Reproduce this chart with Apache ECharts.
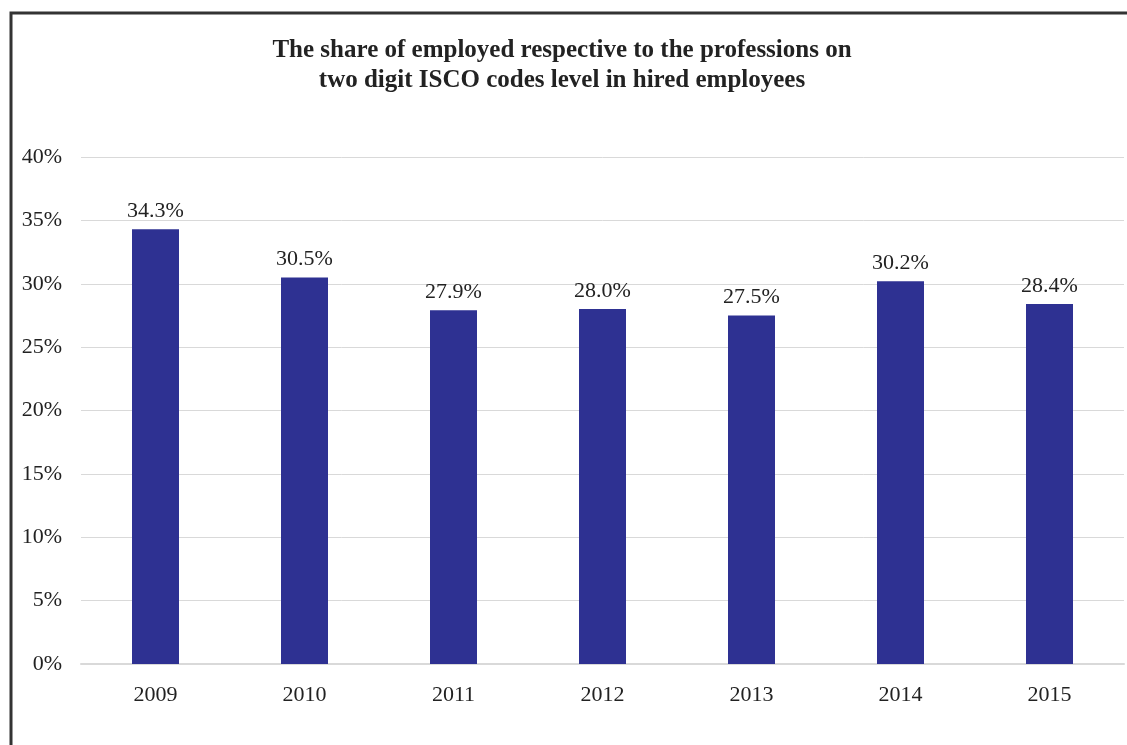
<!DOCTYPE html>
<html>
<head>
<meta charset="utf-8">
<script src="https://cdn.jsdelivr.net/npm/echarts@6/dist/echarts.min.js"></script>
<style>
html,body{margin:0;padding:0;background:#fff;}
#chart{width:1127px;height:745px;}
</style>
</head>
<body>
<div id="chart"></div>
<script>
var titleText = 'The share of employed respective to the professions on\ntwo digit ISCO codes level in hired employees';
var categories = ['2009', '2010', '2011', '2012', '2013', '2014', '2015'];
var shareValues = [34.3, 30.5, 27.9, 28.0, 27.5, 30.2, 28.4];

var fontFam = '"Liberation Serif", "DejaVu Serif", serif';
var chart = echarts.init(document.getElementById('chart'), null, {renderer: 'canvas'});
chart.setOption({
  backgroundColor: '#fff',
  animation: false,
  title: {
    text: titleText,
    left: 557,
    textAlign: 'center',
    top: 31,
    textStyle: {fontFamily: fontFam, fontSize: 25, fontWeight: 'bold', color: '#222', lineHeight: 30}
  },
  graphic: [
    {type: 'polyline', shape: {points: [[11, 745], [11, 13], [1127, 13]]}, style: {stroke: '#333', lineWidth: 3, fill: null}}
  ],
  grid: {left: 81, right: 3, top: 157, bottom: 81, containLabel: false},
  xAxis: {
    type: 'category',
    data: categories,
    axisLine: {lineStyle: {color: '#d9d9d9', width: 2}},
    axisTick: {show: false},
    axisLabel: {fontFamily: fontFam, fontSize: 22, color: '#222', margin: 20}
  },
  yAxis: {
    type: 'value',
    min: 0, max: 40, interval: 5,
    axisLine: {show: false},
    axisTick: {show: false},
    splitLine: {lineStyle: {color: '#d9d9d9', width: 1}},
    axisLabel: {fontFamily: fontFam, fontSize: 22, color: '#222', margin: 19, formatter: '{value}%'}
  },
  series: [{
    type: 'bar',
    data: shareValues,
    barWidth: 47,
    itemStyle: {color: '#2E3192'},
    label: {show: true, position: 'top', distance: 7, fontFamily: fontFam, fontSize: 22, color: '#222',
      formatter: function(p){ return p.value.toFixed(1) + '%'; }}
  }]
});
</script>
</body>
</html>
